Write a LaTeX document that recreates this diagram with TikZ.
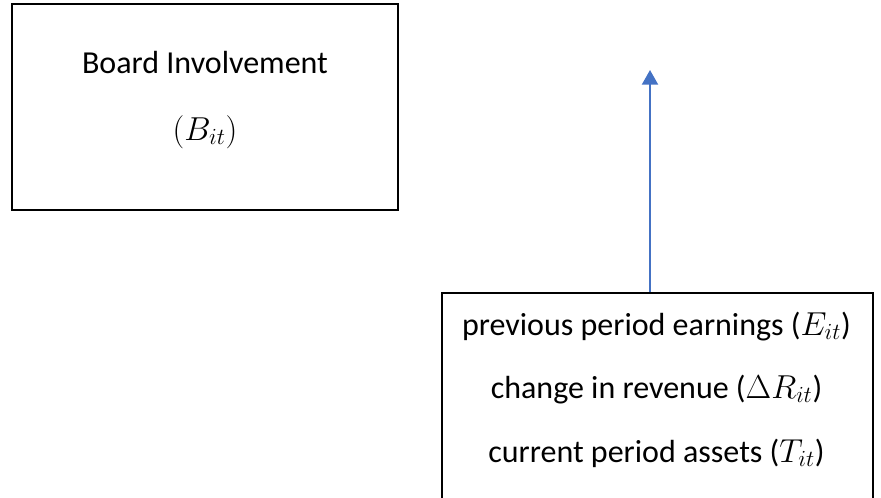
\documentclass[tikz,border=0pt]{standalone}
\usepackage{fontspec}
\setmainfont{Carlito}
\usetikzlibrary{positioning,arrows.meta}
\definecolor{arrowblue}{HTML}{4472C4}

\begin{document}
\begin{tikzpicture}[
  x=0.75pt,y=-0.75pt,
  frame/.style={draw=black,line width=2pt,inner sep=0pt},
  lbl/.style={anchor=base,inner sep=0pt,font=\fontsize{24}{28}\selectfont}
]
\useasboundingbox (0,0) rectangle (881,497);
\node[frame,minimum width=289.5pt,minimum height=154.5pt] (board) at (205,107) {};
\node[lbl] (boardname) at (205,73) {Board Involvement};
\node[lbl] (boardsym) at (205,140) {$(B_{it})$};
\node[frame,minimum width=323.25pt,minimum height=159pt] (drivers) at (657.5,399) {};
\node[lbl] (earnings) at (656.5,335) {previous period earnings ($E_{it}$)};
\node[lbl] (revenue) at (656.5,398) {change in revenue ($\Delta R_{it}$)};
\node[lbl] (assets) at (656.5,462) {current period assets ($T_{it}$)};
\coordinate (tip) at (650,70);
\draw[arrowblue,line width=1.6pt,-{Triangle[length=11pt,width=12pt]}] (tip |- drivers.north) -- (tip);
\end{tikzpicture}
\end{document}
